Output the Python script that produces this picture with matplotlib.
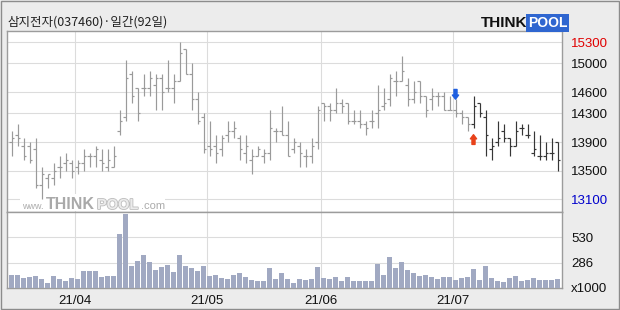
import matplotlib
matplotlib.use("Agg")
import matplotlib.pyplot as plt
import matplotlib.patheffects as pe
from matplotlib.patches import Rectangle

# -----------------------------
# DATA (daily bars)
# -----------------------------
opens = [13900, 14000, 13850, 13850, 13800, 13300, 13400, 13400, 13550, 13600,
         13600, 13550, 13600, 13700, 13700, 13650, 13550, 13550, 14050, 14250,
         14850, 14650, 14650, 14650, 14700, 14800, 14650, 14650, 14750, 15200,
         14850, 14500, 14250, 13850, 13850, 13800, 14000, 14050, 13950, 13750,
         13650, 13700, 13700, 13750, 14050, 14050, 14000, 13800, 13850, 13700,
         13700, 13900, 14450, 14400, 14350, 14450, 14450, 14200, 14200, 14150,
         14200, 14300, 14400, 14500, 14750, 14750, 14700, 14500, 14750, 14550,
         14500, 14550, 14550, 14350, 14350, 14300, 14250, 14150, 14450, 14250,
         13800, 13900, 14050, 13950, 13850, 14100, 14000, 13750, 13700, 13700,
         13750, 13900]
highs = [14050, 14150, 13950, 13900, 13950, 13550, 13450, 13600, 13700, 13750,
         13650, 13650, 13800, 13750, 13850, 13800, 13800, 13850, 14350, 15050,
         14900, 14650, 14850, 14900, 14850, 14850, 15050, 14850, 15300, 15200,
         15000, 14600, 14300, 14200, 14000, 14000, 14200, 14200, 14000, 14000,
         13800, 13850, 13800, 14350, 14100, 14400, 14200, 13950, 13900, 13800,
         13950, 14400, 14450, 14450, 14650, 14500, 14450, 14350, 14350, 14200,
         14350, 14700, 14650, 14850, 14900, 15100, 14800, 14750, 14750, 14550,
         14650, 14600, 14600, 14550, 14500, 14350, 14250, 14550, 14450, 14350,
         13950, 14200, 14150, 13950, 14200, 14150, 14150, 14050, 14000, 13900,
         13950, 13900]
lows = [13700, 13850, 13650, 13600, 13250, 13100, 13250, 13300, 13400, 13500,
        13400, 13450, 13500, 13550, 13550, 13500, 13500, 13550, 14000, 14200,
        14450, 14200, 14550, 14550, 14350, 14350, 14600, 14450, 14750, 14850,
        14350, 14150, 13750, 13700, 13600, 13700, 13900, 13950, 13650, 13600,
        13450, 13700, 13600, 13650, 13900, 14000, 13700, 13750, 13550, 13550,
        13600, 13800, 14200, 14200, 14300, 14300, 14150, 14150, 14100, 14000,
        14100, 14100, 14350, 14400, 14550, 14750, 14400, 14450, 14450, 14250,
        14350, 14400, 14350, 14350, 14250, 14150, 14050, 14100, 14250, 13700,
        13650, 13850, 13900, 13700, 13850, 14000, 13950, 13700, 13650, 13650,
        13650, 13500]
closes = [13950, 13950, 13700, 13650, 13300, 13450, 13450, 13500, 13550, 13650,
          13500, 13600, 13700, 13700, 13800, 13600, 13650, 13700, 14200, 14800,
          14550, 14300, 14650, 14800, 14800, 14600, 14650, 14750, 15150, 14850,
          14500, 14200, 13800, 13800, 13750, 13950, 14050, 14100, 13800, 13850,
          13700, 13800, 13750, 14100, 14050, 14000, 13700, 13900, 13750, 13700,
          13850, 14350, 14400, 14350, 14450, 14400, 14200, 14200, 14150, 14100,
          14200, 14350, 14450, 14800, 14750, 14900, 14500, 14600, 14550, 14350,
          14550, 14550, 14350, 14350, 14300, 14250, 14150, 14400, 14300, 14000,
          13850, 13950, 13950, 13850, 14050, 14100, 14000, 13800, 13700, 13750,
          13750, 13650]
# volume, x1000 shares
volumes = [169, 169, 140, 149, 159, 130, 91, 159, 130, 110,
           140, 130, 208, 208, 208, 152, 159, 159, 559, 754,
           257, 305, 364, 296, 218, 247, 266, 198, 364, 257,
           237, 208, 257, 159, 169, 140, 130, 169, 188, 149,
           120, 110, 110, 237, 130, 188, 130, 91, 130, 120,
           130, 247, 140, 130, 149, 110, 149, 110, 110, 110,
           110, 276, 169, 344, 237, 296, 218, 188, 159, 169,
           149, 130, 149, 149, 120, 140, 149, 227, 120, 257,
           140, 110, 101, 140, 159, 110, 120, 140, 120, 120,
           120, 130]

month_labels = ["21/04", "21/05", "21/06", "21/07"]
month_start = [11, 33, 52, 74]          # bar index of first trading day
price_ticks = [13100, 13500, 13900, 14300, 14600, 15000, 15300]
vol_ticks = [286, 530]
vol_range = (42, 774)
sell_signal = 74
buy_signal = 77

title = "삼지전자(037460)·일간(92일)"

# -----------------------------
# FIGURE SETUP (pixel helpers)
# -----------------------------
W, H = 620, 310


def fx(x):
    return x / W


def fy(y):
    return 1 - y / H


NUM_FONT = ["Liberation Sans Narrow", "Liberation Sans", "DejaVu Sans"]

fig = plt.figure(figsize=(6.2, 3.1), dpi=100, facecolor="#ececec")
ax = fig.add_axes([fx(7), fy(212), fx(562) - fx(7), (212 - 31) / H])
axv = fig.add_axes([fx(7), fy(288), fx(562) - fx(7), (288 - 212) / H], sharex=ax)

n = len(closes)
idx = list(range(n))

for a in (ax, axv):
    a.set_facecolor("white")
    for s in a.spines.values():
        s.set_color("#9c9c9c")
        s.set_linewidth(1.0)
    a.yaxis.tick_right()
    a.tick_params(length=0, labelsize=9.5, labelcolor="#111111")
    a.grid(True, color="#dcdcdc", lw=0.8)
    a.set_axisbelow(True)

# -----------------------------
# PRICE PANEL (OHLC bars)
# -----------------------------
colors = ["#9a9a9a" if i < buy_signal else "#363636" for i in idx]
ax.vlines(idx, lows, highs, colors=colors, lw=0.85, zorder=3, snap=True)
ax.hlines(opens, [i - 0.42 for i in idx], idx, colors=colors, lw=0.85, zorder=3, snap=True)
ax.hlines(closes, idx, [i + 0.42 for i in idx], colors=colors, lw=0.85, zorder=3, snap=True)

ax.set_xlim(-0.75, n - 0.25)
ax.set_ylim(12920, 15455)
ax.set_yticks(price_ticks)
ax.set_yticklabels([str(p) for p in price_ticks], family=NUM_FONT)
ax.tick_params(axis="y", pad=6.5)
ax.tick_params(axis="x", labelbottom=False)
ylabs = ax.get_yticklabels()
ylabs[0].set_color("#0000cc")
ylabs[-1].set_color("#e00000")

# signal arrows
arrow_style = "simple,head_length=0.3,head_width=0.45,tail_width=0.22"
ax.annotate("", xy=(sell_signal, highs[sell_signal]), xytext=(0, 7),
            textcoords="offset points", zorder=4,
            arrowprops=dict(arrowstyle=arrow_style, color="#1f5fe0",
                            shrinkA=0, shrinkB=0, mutation_scale=10))
ax.annotate("", xy=(buy_signal, lows[buy_signal]), xytext=(0, -12),
            textcoords="offset points", zorder=4,
            arrowprops=dict(arrowstyle=arrow_style, color="#e8421a",
                            shrinkA=0, shrinkB=5, mutation_scale=10))

# watermark
ax.add_patch(Rectangle((fx(20), fy(211)), fx(165) - fx(20), (211 - 194) / H,
                       transform=fig.transFigure, facecolor="white",
                       edgecolor="none", zorder=1.5))
ax.text(fx(22), fy(209), "www.", transform=fig.transFigure, fontsize=6.5,
        color="#ababab", zorder=1.6, family="Liberation Sans")
ax.text(fx(46), fy(209), "THINK", transform=fig.transFigure, fontsize=11.5,
        weight="bold", color="#a9a9a9", zorder=1.6, family="Liberation Sans")
ax.text(fx(97), fy(209), "POOL", transform=fig.transFigure, fontsize=10.5,
        weight="bold", color="#ebebeb", zorder=1.6, family="Liberation Sans",
        path_effects=[pe.withStroke(linewidth=1.2, foreground="#bdbdbd")])
ax.text(fx(141), fy(209), ".com", transform=fig.transFigure, fontsize=8,
        color="#ababab", zorder=1.6, family="Liberation Sans")

# -----------------------------
# VOLUME PANEL
# -----------------------------
axv.bar(idx, volumes, width=0.82, color="#a1a9c2", zorder=3)
axv.set_ylim(*vol_range)
axv.set_yticks([vol_range[0]] + vol_ticks)
axv.set_yticklabels(["x1000"] + [str(v) for v in vol_ticks], family=NUM_FONT)
axv.tick_params(axis="y", pad=6.5)
axv.set_xticks([m - 0.5 for m in month_start])
axv.set_xticklabels(month_labels, family=NUM_FONT)
axv.tick_params(axis="x", pad=5)

# -----------------------------
# HEADER: title + logo, outer frame
# -----------------------------
fig.text(fx(7), fy(22), title, ha="left", va="center", fontsize=9,
         color="#222222", family=["Noto Sans CJK KR", "DejaVu Sans"])
fig.text(fx(527), fy(27), "THINK", ha="right", va="baseline", fontsize=11,
         weight="bold", color="#111111", family="Liberation Sans")
fig.text(fx(528), fy(27), "POOL", ha="left", va="baseline", fontsize=10,
         weight="bold", color="white", family="Liberation Sans",
         bbox=dict(boxstyle="square,pad=0.12", fc="#2f66d0", ec="none"))
fig.patches.append(Rectangle((fx(0.5), fy(308.5)), fx(618), 308 / H,
                             transform=fig.transFigure, fill=False,
                             edgecolor="#8c8c8c", lw=1.0))

fig.savefig("out.png", dpi=100, facecolor=fig.get_facecolor())
print("saved out.png")
